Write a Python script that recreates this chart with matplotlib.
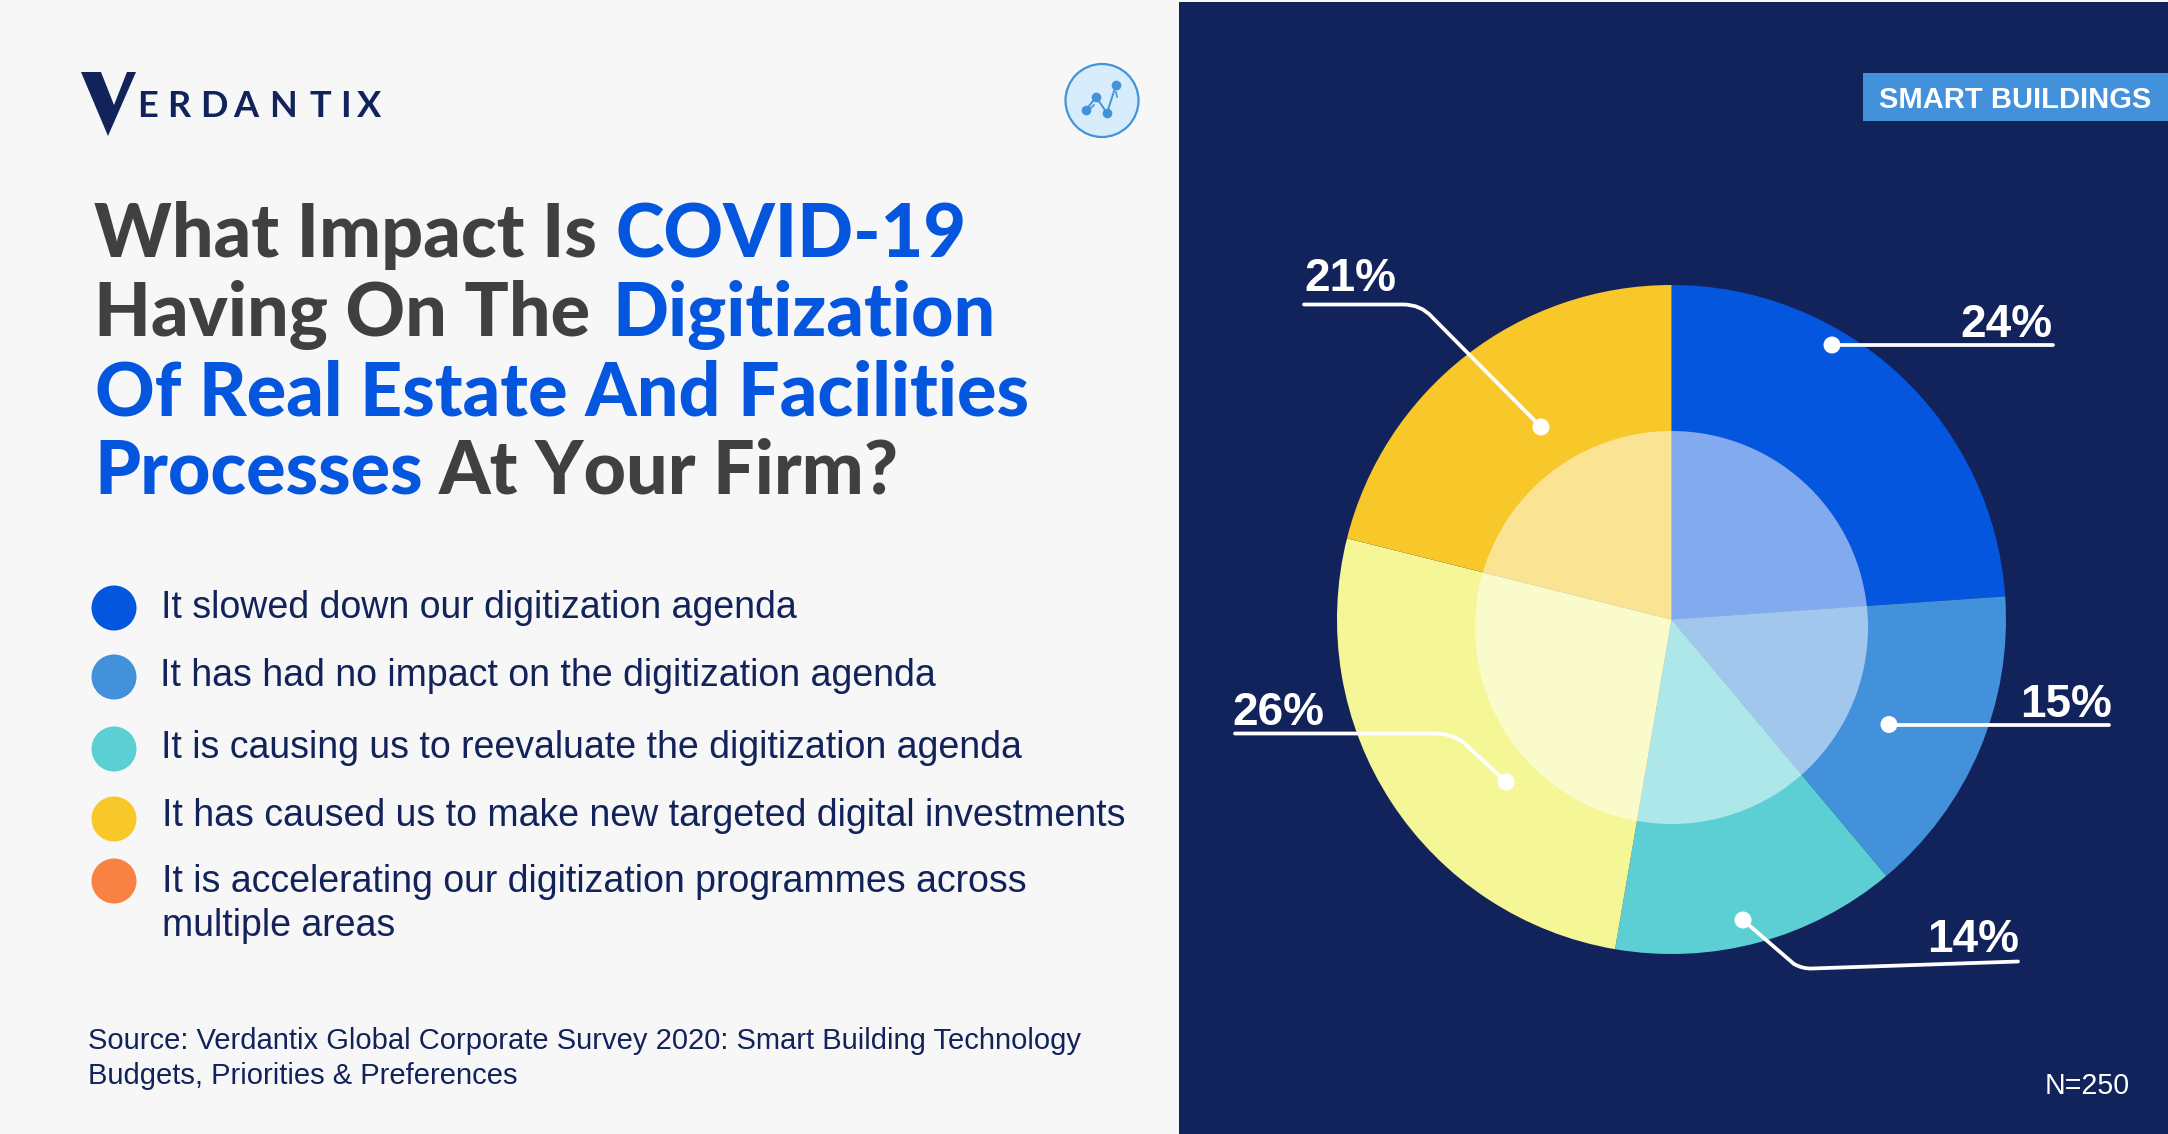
from matplotlib import pyplot as plt
from matplotlib.patches import Circle, Polygon, Rectangle, PathPatch
from matplotlib.path import Path

W, H = 2168, 1134

# slices, clockwise from the top
slice_values = [23.9, 15.0, 13.8, 26.2, 21.1]
slice_colors = ['#0556DE', '#4390DB', '#5BCFD3', '#F5F797', '#F8C729']
slice_labels = ['24%', '15%', '14%', '26%', '21%']

legend_labels = ['It slowed down our digitization agenda',
                 'It has had no impact on the digitization agenda',
                 'It is causing us to reevaluate the digitization agenda',
                 'It has caused us to make new targeted digital investments',
                 'It is accelerating our digitization programmes across\nmultiple areas']
legend_colors = ['#0556DE', '#4390DB', '#5BCFD3', '#F8C729', '#F88244']
legend_dot_y = [608, 677, 749, 819, 881]
legend_text_x = [161, 159.5, 161, 162, 162]
legend_text_y = [617.5, 686, 758, 825.5, 891.5]

NAVY = '#12235C'
GREY = '#404040'
BLUE = '#0556DE'

# title pieces: text, colour, left x, baseline y
title_parts = [('What Impact Is', GREY, 94, 257),
               ('COVID-19', BLUE, 615, 257),
               ('Having On The', GREY, 94, 336),
               ('Digitization', BLUE, 612, 336),
               ('Of Real Estate And Facilities', BLUE, 95, 415),
               ('Processes', BLUE, 94, 494),
               ('At Your Firm?', GREY, 439, 494)]

logo_letters = ['E', 'R', 'D', 'A', 'N', 'T', 'I', 'X']
logo_x = [137, 167, 200, 233, 269, 309, 340, 357]

fig = plt.figure(figsize=(W / 100, H / 100), dpi=100, facecolor='#F7F7F7')

# background axes in pixels
bg = fig.add_axes([0, 0, 1, 1], zorder=0)
bg.set_xlim(0, W)
bg.set_ylim(H, 0)
bg.axis('off')
bg.add_patch(Rectangle((1179, 2), W - 1179, H, color=NAVY, lw=0))
bg.add_patch(Rectangle((1863, 73), W - 1863, 48, color='#4390DB', lw=0))

# pie
cx, cy, r = 1671.5, 619.5, 334.5
pie_ax = fig.add_axes([(cx - r) / W, 1 - (cy + r) / H, 2 * r / W, 2 * r / H], zorder=1)
pie_ax.pie(slice_values, colors=slice_colors, startangle=90, counterclock=False, radius=1)
pie_ax.set_xlim(-1, 1)
pie_ax.set_ylim(-1, 1)
pie_ax.add_patch(Circle((0, -8 / r), 196.5 / r, color='white', alpha=0.5, lw=0))

# everything else on top, again in pixels
ax = fig.add_axes([0, 0, 1, 1], zorder=2)
ax.set_xlim(0, W)
ax.set_ylim(H, 0)
ax.axis('off')
ax.patch.set_alpha(0)

# logo
ax.add_patch(Polygon([(81, 72), (101, 72), (114, 105), (127, 72), (136, 72), (108, 136)],
                     color=NAVY, lw=0))
for letter, lx in zip(logo_letters, logo_x):
    ax.text(lx, 117, letter, color=NAVY, fontsize=26, family='Lato', fontweight='bold',
            ha='left', va='baseline')

# small icon
ax.add_patch(Circle((1102, 100.5), 36.5, facecolor='#D8EDFC', edgecolor='#4393DA', lw=1.6))
ax.plot([1086, 1096, 1107, 1116], [110, 97, 113, 85], color='#4393DA', lw=1.4,
        marker='o', ms=7, mew=0)
ax.plot([1091, 1094], [108, 105], color='#4393DA', lw=1.2)
ax.plot([1116, 1117], [92, 97], color='#4393DA', lw=1.2)

# title
for txt, col, tx, ty in title_parts:
    ax.text(tx, ty, txt, color=col, fontsize=53, family='Lato', fontweight=900,
            ha='left', va='baseline')

# legend
for lab, col, dy, tx, ty in zip(legend_labels, legend_colors, legend_dot_y, legend_text_x, legend_text_y):
    ax.add_patch(Circle((114, dy), 22.5, color=col, lw=0))
    lines = lab.split('\n')
    for i, line in enumerate(lines):
        ax.text(tx, ty + i * 44.5, line, color=NAVY, fontsize=27, family='Liberation Sans',
                ha='left', va='baseline')

ax.text(88, 1049, 'Source: Verdantix Global Corporate Survey 2020: Smart Building Technology',
        color=NAVY, fontsize=21, family='Liberation Sans', ha='left', va='baseline')
ax.text(88, 1084, 'Budgets, Priorities & Preferences',
        color=NAVY, fontsize=21, family='Liberation Sans', ha='left', va='baseline')

ax.text(1879, 107.5, 'SMART BUILDINGS', color='white', fontsize=21, fontweight='bold',
        family='Liberation Sans', ha='left', va='baseline')
ax.text(2045, 1094, 'N=250', color='white', fontsize=20.6, family='Liberation Sans',
        ha='left', va='baseline')

# slice labels and leader lines
label_x = [1960, 2020, 1927, 1232, 1304]
label_y = [337, 717, 952, 725, 291]
for lab, lx, ly in zip(slice_labels, label_x, label_y):
    ax.text(lx, ly, lab, color='white', fontsize=33, fontweight='bold',
            family='Liberation Sans', ha='left', va='baseline')

M, L, Q = Path.MOVETO, Path.LINETO, Path.CURVE3
leaders = [
    ([(1832, 345), (2053, 345)], [M, L]),
    ([(1889, 724.5), (2109, 724.5)], [M, L]),
    ([(1743, 920), (1794, 964), (1803, 969), (1812, 968.5), (2018, 961.5)], [M, L, Q, Q, L]),
    ([(1506, 782), (1463, 742), (1451, 733.5), (1436, 733.5), (1235, 733.5)], [M, L, Q, Q, L]),
    ([(1541, 427), (1432, 317), (1421, 304.5), (1403, 304.5), (1304, 304.5)], [M, L, Q, Q, L]),
]
for pts, codes in leaders:
    ax.add_patch(PathPatch(Path(pts, codes), fill=False, edgecolor='white', lw=2.7, capstyle='round'))
    ax.add_patch(Circle(pts[0], 8.5, color='white', lw=0))

fig.savefig('out.png', dpi=100, facecolor=fig.get_facecolor())
